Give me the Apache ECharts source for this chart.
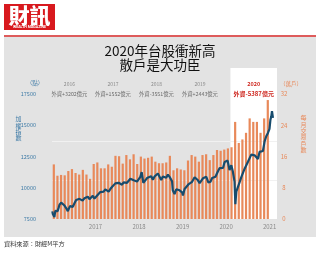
<!DOCTYPE html>
<html><head><meta charset="utf-8">
<script src="https://cdn.jsdelivr.net/npm/echarts@6/dist/echarts.min.js"></script>
<style>
html,body{margin:0;padding:0;background:#fff;width:320px;height:254px;overflow:hidden;}
#panel{position:absolute;left:4px;top:37px;width:312px;height:200px;background:#e3e3e3;}
#rule{position:absolute;left:4px;top:35px;width:312px;height:2px;background:#de5b5b;}
#c{position:absolute;left:0;top:0;width:320px;height:254px;}
</style></head><body>
<div id="panel"></div><div id="rule"></div><div id="c"></div>
<script>
// ---- data ----
const barStartYear = 2016; // monthly bars from Jan 2016
const monthlyAccounts = [ // 每月交易戶數 (萬戶)
  14.0, 11.1, 11.3, 11.2, 12.3, 12.8, 11.8, 11.4, 12.6, 11.4, 10.3, 14.1,
  14.5, 13.0, 13.0, 14.0, 13.4, 16.2, 16.1, 14.2, 16.4, 15.3, 16.6, 14.1,
  16.0, 15.5, 15.7, 16.0, 14.7, 14.3, 14.3, 14.5, 16.2, 12.5, 13.0, 12.7,
  12.5, 15.0, 16.4, 16.0, 14.7, 16.4, 16.6, 15.1, 16.4, 17.7, 17.5, 17.8,
  18.1, 18.4, 24.9, 19.5, 20.4, 22.1, 25.8, 24.9, 24.9, 22.1, 25.8, 30.5
];
const indexDates = [
  '2016-01-04','2016-01-08','2016-01-15','2016-01-21','2016-01-29','2016-02-17','2016-02-26','2016-03-04','2016-03-18','2016-03-31',
  '2016-04-15','2016-04-29','2016-05-13','2016-05-20','2016-05-31','2016-06-14','2016-06-24','2016-07-08','2016-07-22','2016-08-05',
  '2016-08-19','2016-09-02','2016-09-14','2016-09-30','2016-10-14','2016-10-28','2016-11-11','2016-11-25','2016-12-09','2016-12-23',
  '2016-12-30','2017-01-13','2017-01-24','2017-02-10','2017-02-24','2017-03-10','2017-03-24','2017-04-07','2017-04-21','2017-05-05',
  '2017-05-19','2017-06-02','2017-06-16','2017-06-30','2017-07-14','2017-07-28','2017-08-11','2017-08-25','2017-09-08','2017-09-22',
  '2017-10-06','2017-10-20','2017-11-03','2017-11-17','2017-12-01','2017-12-15','2017-12-29','2018-01-12','2018-01-23','2018-02-06',
  '2018-02-23','2018-03-09','2018-03-23','2018-04-13','2018-04-27','2018-05-11','2018-05-25','2018-06-08','2018-06-22','2018-07-06',
  '2018-07-20','2018-08-03','2018-08-17','2018-08-31','2018-09-14','2018-09-28','2018-10-05','2018-10-11','2018-10-26','2018-11-09',
  '2018-11-23','2018-12-07','2018-12-28','2019-01-04','2019-01-18','2019-02-01','2019-02-22','2019-03-08','2019-03-22','2019-04-12',
  '2019-04-26','2019-05-10','2019-05-24','2019-06-06','2019-06-21','2019-07-05','2019-07-19','2019-08-06','2019-08-23','2019-09-06',
  '2019-09-20','2019-10-04','2019-10-25','2019-11-08','2019-11-22','2019-12-06','2019-12-20','2020-01-03','2020-01-14','2020-01-30',
  '2020-02-14','2020-02-27','2020-03-06','2020-03-12','2020-03-19','2020-03-27','2020-04-10','2020-04-24','2020-05-08','2020-05-22',
  '2020-06-05','2020-06-19','2020-07-03','2020-07-17','2020-07-31','2020-08-14','2020-08-28','2020-09-11','2020-09-25','2020-10-09',
  '2020-10-23','2020-11-06','2020-11-20','2020-12-04','2020-12-18','2020-12-31','2021-01-08','2021-01-15','2021-01-21','2021-01-29'
];
const indexValues = [
  8115, 7893, 7811, 7664, 8145, 8130, 8411, 8643, 8811, 8745,
  8580, 8377, 8131, 8053, 8535, 8576, 8476, 8760, 9025, 8979,
  9116, 9100, 8974, 9167, 9292, 9290, 9090, 9208, 9361, 9132,
  9254, 9367, 9456, 9660, 9750, 9700, 9874, 9817, 9699, 9900,
  10063, 10162, 10355, 10395, 10400, 10456, 10250, 10438, 10540, 10400,
  10500, 10730, 10800, 10600, 10450, 10500, 10643, 10880, 11253, 10404,
  10600, 10780, 10720, 10930, 10640, 10900, 11040, 11150, 10890, 10630,
  10900, 11000, 10810, 11060, 10880, 11006, 10517, 9806, 9490, 9880,
  9780, 9800, 9640, 9382, 9900, 9932, 10300, 10270, 10480, 10850,
  10960, 10600, 10380, 10380, 10760, 10800, 10880, 10420, 10480, 10780,
  10870, 10880, 11330, 11580, 11480, 11590, 12070, 12100, 12180, 11420,
  11810, 11300, 11320, 10500, 8681, 9700, 9800, 10450, 10860, 10800,
  11530, 11500, 12090, 12170, 12660, 12800, 12600, 12600, 12300, 12880,
  12880, 12950, 13720, 14130, 14400, 14730, 15460, 15710, 16150, 15600
];
const annoYears = ['2016', '2017', '2018', '2019', '2020'];
const annoFlows = ['外資+3202億元', '外資+1552億元', '外資-3551億元', '外資+2443億元', '外資-5387億元'];
const leftTicks = [7500, 17500, 2500];   // min, max label, step
const rightTicks = [0, 32, 8];

// ---- build ----
function fracYear(s) {
  const y = +s.slice(0, 4);
  const t = Date.UTC(y, +s.slice(5, 7) - 1, +s.slice(8, 10));
  return y + (t - Date.UTC(y, 0, 1)) / (Date.UTC(y + 1, 0, 1) - Date.UTC(y, 0, 1));
}
const barData = monthlyAccounts.map((v, i) => [barStartYear + (i + 0.5) / 12, v]);
const lineData = indexDates.map((d, i) => [fracYear(d), indexValues[i]]);
const X_MIN = 2016, X_MAX = 2021.17, HL_START = 2020.1;
const LEFT_MAX = 19600;
const RIGHT_MAX = (LEFT_MAX - leftTicks[0]) / (leftTicks[1] - leftTicks[0]) * rightTicks[1];
const CJK = '"Noto Sans CJK TC","Noto Sans",sans-serif';
const BLUE = '#3d7aa6', ORANGE = '#e8895a';

const chart = echarts.init(document.getElementById('c'), null, {renderer: 'canvas'});
chart.setOption({
  backgroundColor: 'transparent',
  animation: false,
  title: {
    text: '2020年台股衝新高\n散戶是大功臣',
    left: 'center', top: 39,
    textStyle: {fontFamily: CJK, fontSize: 13.5, lineHeight: 14, fontWeight: 'normal', color: '#111'}
  },
  grid: {left: 52, right: 43, top: 68, bottom: 35},
  xAxis: {
    type: 'value', min: X_MIN, max: X_MAX, interval: 1,
    axisLine: {show: false}, axisTick: {show: false}, splitLine: {show: false},
    axisLabel: {
      fontSize: 6, color: '#8a8a8a', margin: 5, fontFamily: CJK,
      formatter: v => (Math.abs(v - Math.round(v)) < 1e-6 && v > X_MIN) ? String(Math.round(v)) : ''
    }
  },
  yAxis: [
    {
      type: 'value', min: leftTicks[0], max: LEFT_MAX, interval: leftTicks[2],
      axisLine: {show: false}, axisTick: {show: false}, splitLine: {show: false},
      axisLabel: {fontSize: 5.5, color: BLUE, margin: 16, fontFamily: CJK,
        formatter: v => v <= leftTicks[1] ? String(v) : ''}
    },
    {
      type: 'value', min: rightTicks[0], max: RIGHT_MAX, interval: rightTicks[2],
      axisLine: {show: false}, axisTick: {show: false}, splitLine: {show: false},
      axisLabel: {fontSize: 6, color: ORANGE, margin: 7, align: 'center', fontFamily: CJK,
        formatter: v => v <= rightTicks[1] ? String(v) : ''}
    }
  ],
  series: [
    {
      type: 'bar', yAxisIndex: 1, data: barData, barWidth: 2.2, z: 2,
      itemStyle: {color: ORANGE},
      markArea: {silent: true, z: 0, itemStyle: {color: '#ffffff'},
        data: [[{xAxis: HL_START}, {xAxis: X_MAX}]]},
      markLine: {silent: true, z: 1, symbol: 'none', label: {show: false},
        lineStyle: {color: '#f1f1f1', width: 1, type: 'solid'},
        data: [{yAxis: 20}, {yAxis: 10}]}
    },
    {
      type: 'line', yAxisIndex: 0, data: lineData, showSymbol: false, z: 3,
      lineStyle: {color: '#174c6e', width: 2.2}, itemStyle: {color: '#174c6e'}
    }
  ]
});

const px = x => chart.convertToPixel({xAxisIndex: 0}, x);
const annoG = [];
annoYears.forEach((y, i) => {
  const hl = i === annoYears.length - 1;
  const cx = hl ? px((HL_START + X_MAX) / 2) : px(+y + 0.4);
  annoG.push({type: 'text', x: cx, y: 84, style: {text: y, fontFamily: CJK, fontSize: hl ? 5.5 : 5, fontWeight: hl ? 'bold' : 'normal',
    fill: hl ? '#cf2a22' : '#8a8a8a', align: 'center', verticalAlign: 'middle'}});
  annoG.push({type: 'text', x: cx, y: 93.5, style: {text: annoFlows[i], fontFamily: CJK, fontSize: hl ? 6 : 5.3,
    fontWeight: hl ? 'bold' : 'normal', fill: hl ? '#cf2a22' : '#6a6a6a', align: 'center', verticalAlign: 'middle'}});
});

chart.setOption({
  graphic: [
    {type: 'rect', shape: {x: 4, y: 4, width: 51, height: 26}, style: {fill: '#d8191e'}},
    {type: 'text', x: 29.5, y: 15, style: {text: '財訊', fontFamily: CJK, fontSize: 21, fontWeight: 900, fill: '#fff',
      align: 'center', verticalAlign: 'middle'}},
    {type: 'text', x: 29.5, y: 27, style: {text: 'WEALTH MAGAZINE', fontFamily: 'Roboto,sans-serif', fontSize: 3.6, fontWeight: 'bold',
      fill: '#fff', align: 'center', verticalAlign: 'middle'}},
    {type: 'text', x: 35, y: 83, style: {text: '（點）', fontFamily: CJK, fontSize: 5.5, fill: BLUE, align: 'center', verticalAlign: 'middle'}},
    {type: 'text', x: 291, y: 84, style: {text: '（萬戶）', fontFamily: CJK, fontSize: 5.5, fill: ORANGE, align: 'center', verticalAlign: 'middle'}},
    {type: 'text', x: 18.5, y: 116, style: {text: '加\n權\n指\n數', fontFamily: CJK, fontSize: 6, lineHeight: 6.3, fill: BLUE, align: 'center', verticalAlign: 'top'}},
    {type: 'text', x: 303.5, y: 115, style: {text: '每\n月\n交\n易\n戶\n數', fontFamily: CJK, fontSize: 6, lineHeight: 6.3, fill: ORANGE, align: 'center', verticalAlign: 'top'}},
    {type: 'text', x: 4, y: 244, style: {text: '資料來源：財經M平方', fontFamily: CJK, fontSize: 6.2, fill: '#333', align: 'left', verticalAlign: 'middle'}}
  ].concat(annoG)
});
</script>
</body></html>
